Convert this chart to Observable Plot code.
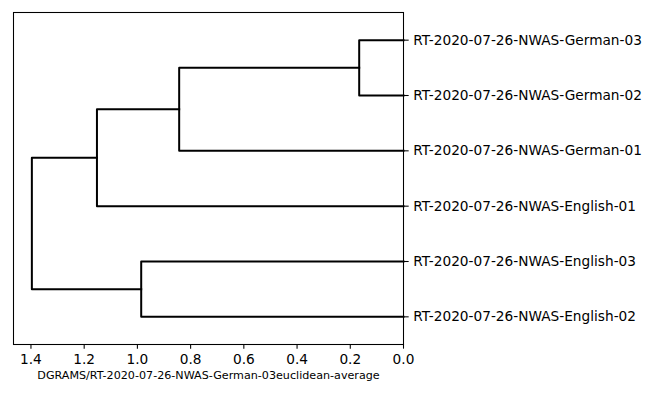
<!DOCTYPE html>
<html>
<head>
<meta charset="utf-8">
<script src="https://cdn.jsdelivr.net/npm/d3@7"></script>
<script src="https://cdn.jsdelivr.net/npm/@observablehq/plot@0.6"></script>
<style>
  html, body { margin: 0; padding: 0; background: #fff; }
</style>
</head>
<body>
<div id="chart"></div>
<script>
// Leaves in display order (top to bottom)
const leaves = [
  "RT-2020-07-26-NWAS-German-03",
  "RT-2020-07-26-NWAS-German-02",
  "RT-2020-07-26-NWAS-German-01",
  "RT-2020-07-26-NWAS-English-01",
  "RT-2020-07-26-NWAS-English-03",
  "RT-2020-07-26-NWAS-English-02"
];
// Linkage: new node ids start at leaves.length
const mergeLeft   = [0, 6, 7, 4, 8];
const mergeRight  = [1, 2, 3, 5, 9];
const mergeHeight = [0.1665, 0.843, 1.152, 0.9857, 1.3966];
const xTicks = [0, 0.2, 0.4, 0.6, 0.8, 1.0, 1.2, 1.4];
const xDomainMax = 1.4656;
const xLabel = "DGRAMS/RT-2020-07-26-NWAS-German-03euclidean-average";

// Compute node positions (matplotlib-style: leaves at 5, 15, 25, ...)
const nodeY = leaves.map((_, i) => 5 + 10 * i);
const nodeH = leaves.map(() => 0);
const links = [];
mergeLeft.forEach((a, k) => {
  const b = mergeRight[k], h = mergeHeight[k];
  links.push({k, x: nodeH[a], y: nodeY[a]});
  links.push({k, x: h, y: nodeY[a]});
  links.push({k, x: h, y: nodeY[b]});
  links.push({k, x: nodeH[b], y: nodeY[b]});
  nodeY.push((nodeY[a] + nodeY[b]) / 2);
  nodeH.push(h);
});
const leafPos = leaves.map((_, i) => 5 + 10 * i);

const chart = Plot.plot({
  width: 650,
  height: 400,
  marginLeft: 13,
  marginRight: 247,
  marginTop: 12,
  marginBottom: 56,
  style: {fontFamily: "DejaVu Sans", fontSize: "13.7px", color: "black", background: "white"},
  x: {domain: [xDomainMax, 0]},
  y: {domain: [0, leaves.length * 10], reverse: true},
  marks: [
    Plot.line(links, {x: "x", y: "y", z: "k", stroke: "black", strokeWidth: 2, strokeLinejoin: "round", strokeLinecap: "square"}),
    Plot.frame({stroke: "black", strokeWidth: 1.07}),
    Plot.axisX({ticks: xTicks, tickFormat: d => d.toFixed(1), tickSize: 4.67, tickPadding: 5.5, label: null, strokeWidth: 1.07, fill: "black"}),
    Plot.axisY({anchor: "right", ticks: leafPos, tickFormat: d => leaves[leafPos.indexOf(d)], tickSize: 4.67, tickPadding: 5, label: null, strokeWidth: 1.07, fill: "black"}),
    Plot.text([xLabel], {frameAnchor: "bottom", dy: 34.5, fontSize: 11.15, fill: "black"})
  ]
});
document.getElementById("chart").appendChild(chart);
</script>
</body>
</html>
